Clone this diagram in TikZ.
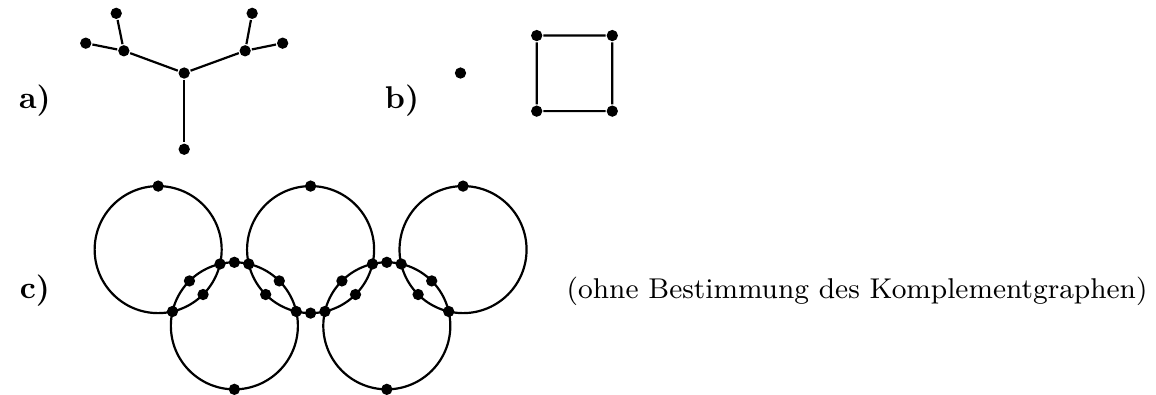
\documentclass[tikz,border=0pt]{standalone}
\usepackage{tikz}
\usetikzlibrary{calc}

\tikzset{
 vtx/.style={circle,fill=black,inner sep=0pt,minimum size=3.6pt},
 lab/.style={font=\bfseries}
}

\begin{document}
\begin{tikzpicture}[scale=0.71,line width=0.7pt]
 \useasboundingbox (-2.49,-2.28) rectangle (15.71,3.93);
 % a) Baum
 \node[lab] (la) at (-1.94,2.34) {a)};
 \foreach \n/\x/\y in {m/0.41/2.78,u/0.41/1.58,l/-0.54/3.13,r/1.37/3.13,
   lo/-0.66/3.72,lw/-1.14/3.25,ro/1.48/3.72,rw/1.96/3.25}
  \node[vtx] (\n) at (\x,\y) {};
 \foreach \a/\b in {m/u,m/l,m/r,l/lo,l/lw,r/ro,r/rw}
  \draw (\a)--(\b);
 % b) Punkt und Quadrat
 \node[lab] (lb) at (3.84,2.34) {b)};
 \node[vtx] (p) at (4.76,2.78) {};
 \foreach \n/\x/\y in {q1/5.96/3.37,q2/7.15/3.37,q3/7.15/2.18,q4/5.96/2.18}
  \node[vtx] (\n) at (\x,\y) {};
 \draw (q1)--(q2)--(q3)--(q4)--(q1);
 % c) Ringe
 \node[lab] (lc) at (-1.94,-0.65) {c)};
 \foreach \i/\x/\y in {1/0/0,2/2.4/0,3/4.8/0,4/1.2/-1.2,5/3.6/-1.2}
  \coordinate (c\i) at (\x,\y);
 \foreach \i in {1,...,5}
  \draw (c\i) circle (1);
 \foreach \t/\b/\w in {1/4/-45,2/4/-135,2/5/-45,3/5/-135} {
  \node[vtx] (m\t\b) at ($(c\t)+(\w:1)$) {};
  \node[vtx] (n\t\b) at ($(c\b)+({\w+180}:1)$) {};
  \node[vtx] (x\t\b) at ($(c\t)+({\w+31.95}:1)$) {};
  \node[vtx] (y\t\b) at ($(c\t)+({\w-31.95}:1)$) {};}
 \foreach \i in {1,...,5}
  \node[vtx] (o\i) at ($(c\i)+(90:1)$) {};
 \foreach \i in {2,4,5}
  \node[vtx] (u\i) at ($(c\i)+(-90:1)$) {};
 \node[anchor=west,font=\fontsize{9.1}{11}\selectfont] (txt) at (6.25,-0.65)
  {(ohne Bestimmung des Komplementgraphen)};
\end{tikzpicture}
\end{document}
